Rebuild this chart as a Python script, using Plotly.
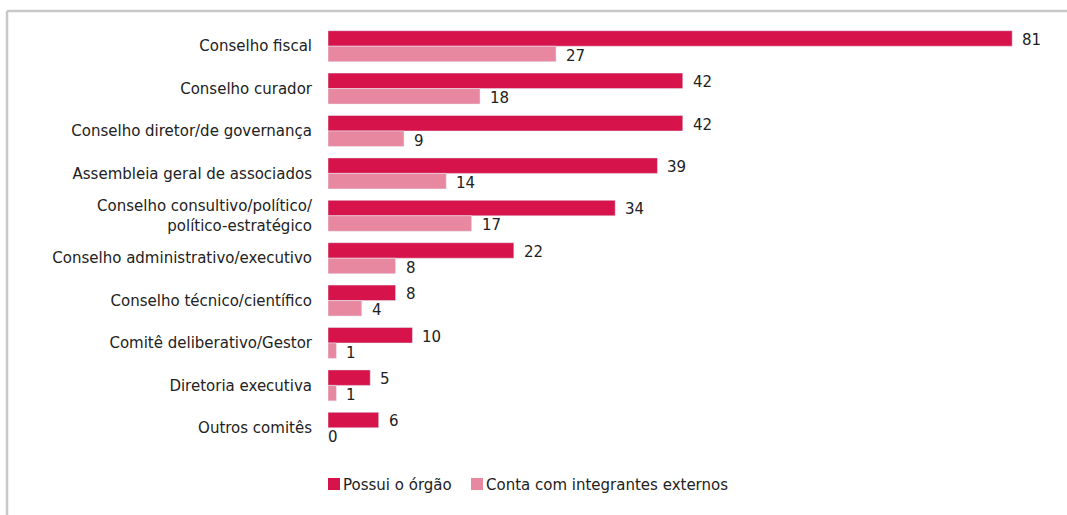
import plotly.graph_objects as go

# Governance bodies and their counts
categories = [
    "Conselho fiscal",
    "Conselho curador",
    "Conselho diretor/de governança",
    "Assembleia geral de associados",
    "Conselho consultivo/político/<br>político-estratégico",
    "Conselho administrativo/executivo",
    "Conselho técnico/científico",
    "Comitê deliberativo/Gestor",
    "Diretoria executiva",
    "Outros comitês",
]
possui_orgao = [81, 42, 42, 39, 34, 22, 8, 10, 5, 6]
integrantes_externos = [27, 18, 9, 14, 17, 8, 4, 1, 1, 0]
series_names = ["Possui o órgão", "Conta com integrantes externos"]

DARK = "#D6134A"
LIGHT = "#E888A0"
TEXT = "#222222"
FONT = "DejaVu Sans, Verdana, sans-serif"
FS = 15

W, H = 1067, 515
ML, MR, MT, MB = 328, 21, 25, 66
PW = W - ML - MR
PH = H - MT - MB

fig = go.Figure()
fig.add_trace(go.Bar(y=categories, x=possui_orgao, orientation="h",
                     name=series_names[0], marker_color=DARK, hoverinfo="x+y"))
fig.add_trace(go.Bar(y=categories, x=integrantes_externos, orientation="h",
                     name=series_names[1], marker_color=LIGHT, hoverinfo="x+y"))

# Value labels beside each bar
annotations = []
for vals, shift in ((possui_orgao, 6.5), (integrantes_externos, -9.5)):
    for cat, v in zip(categories, vals):
        annotations.append(dict(
            x=v, y=cat, xref="x", yref="y", text=str(v), showarrow=False,
            xanchor="left", yanchor="middle", xshift=8 if v > 0 else -2,
            yshift=shift, font=dict(size=FS, color=TEXT, family=FONT)))

# Legend drawn as swatches + text under the plot
def px_x(px):
    return (px - ML) / PW

def px_y(py):
    return (H - MB - py) / PH

shapes = []
legend_items = [(328, DARK, series_names[0]), (471, LIGHT, series_names[1])]
for x0, col, label in legend_items:
    shapes.append(dict(type="rect", xref="paper", yref="paper",
                       x0=px_x(x0), x1=px_x(x0 + 12), y0=px_y(490), y1=px_y(478),
                       fillcolor=col, line=dict(width=0)))
    annotations.append(dict(x=px_x(x0 + 13), y=px_y(485), xref="paper", yref="paper",
                            text=label, showarrow=False, xanchor="left", yanchor="middle",
                            font=dict(size=FS, color=TEXT, family=FONT)))

# Frame lines (top and left)
shapes.append(dict(type="line", xref="paper", yref="paper",
                   x0=px_x(7), x1=px_x(W + 5), y0=px_y(11), y1=px_y(11),
                   line=dict(color="#C8C8C8", width=2.5)))
shapes.append(dict(type="line", xref="paper", yref="paper",
                   x0=px_x(7), x1=px_x(7), y0=px_y(11), y1=px_y(H + 5),
                   line=dict(color="#C8C8C8", width=2.5)))

fig.update_layout(
    width=W, height=H,
    margin=dict(l=ML, r=MR, t=MT, b=MB, pad=0),
    barmode="group", bargap=0.27, bargroupgap=0,
    plot_bgcolor="white", paper_bgcolor="white",
    showlegend=False,
    font=dict(family=FONT, size=FS, color=TEXT),
    xaxis=dict(range=[0, 85], visible=False, fixedrange=True),
    yaxis=dict(autorange="reversed", showgrid=False, zeroline=False, showline=False,
               ticks="", ticklabelstandoff=15, tickfont=dict(size=FS, color=TEXT, family=FONT)),
    annotations=annotations,
    shapes=shapes,
)

fig.write_html("out.html")
